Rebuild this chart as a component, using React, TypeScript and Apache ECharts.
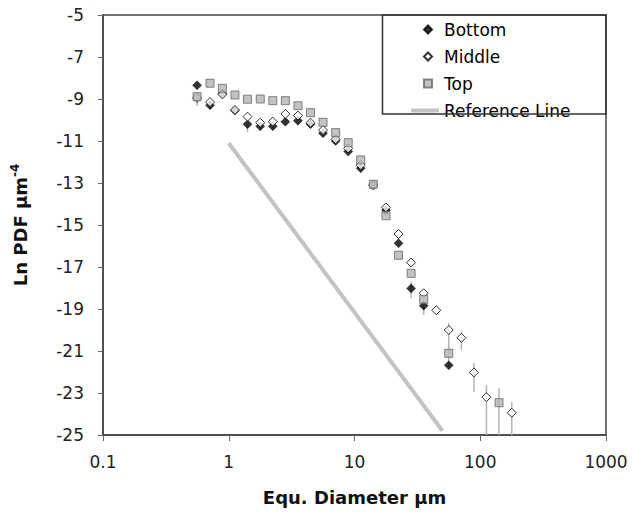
import React, { useEffect, useRef } from "react";
import * as echarts from "echarts";

// Equivalent diameter (µm) bins
const diameters = [0.56, 0.71, 0.89, 1.12, 1.41, 1.78, 2.24, 2.82, 3.55, 4.47, 5.62, 7.08, 8.91, 11.2, 14.1, 17.8, 22.4, 28.2, 35.5, 44.7, 56.2, 70.8, 89.1, 112, 141, 178];

// Ln PDF values per position
const bottomVals: (number | null)[] = [-8.35, -9.3, -8.75, -9.55, -10.2, -10.3, -10.3, -10.08, -10.03, -10.2, -10.63, -11.0, -11.5, -12.3, -13.1, -14.3, -15.87, -18.02, -18.84, null, -21.68, null, null, null, null, null];
const middleVals: (number | null)[] = [-8.95, -9.15, -8.78, -9.52, -9.84, -10.13, -10.08, -9.71, -9.79, -10.13, -10.48, -10.92, -11.35, -12.15, -13.1, -14.16, -15.43, -16.79, -18.25, -19.06, -20.0, -20.37, -22.02, -23.2, null, -23.94];
const topVals: (number | null)[] = [-8.89, -8.25, -8.49, -8.81, -9.01, -9.0, -9.08, -9.08, -9.32, -9.65, -10.11, -10.6, -11.08, -11.9, -13.06, -14.56, -16.44, -17.3, -18.54, null, -21.11, null, null, null, -23.46, null];

// Error bars [low, high] (null = none visible)
const bottomErr: ([number, number] | null)[] = [null, null, null, null, [-10.57, -10.2], [-10.5, -10.3], [-10.43, -10.3], null, null, null, null, null, null, null, null, null, null, [-18.49, -17.7], [-19.29, -18.84], null, null, null, null, null, null, null];
const middleErr: ([number, number] | null)[] = [null, [-9.48, -9.15], null, null, null, null, null, null, null, null, null, null, null, null, null, null, null, null, null, null, [-21.76, -19.67], [-20.95, -20.1], [-22.95, -21.57], [-26, -22.62], null, [-26, -23.43]];
const topErr: ([number, number] | null)[] = [[-9.33, -8.89], null, null, null, null, null, null, null, null, null, null, null, null, null, null, null, null, null, null, null, null, null, null, null, [-26, -22.76], null];

// Reference line (slope -3.5 in ln-ln)
const refLine: [number, number][] = [[1, -11.1], [50, -24.8]];

const markerNames = ["Bottom", "Middle", "Top"];
const lineNames = ["Reference Line"];
const xTickMin = 0.1;
const xTickMax = 1000;
const yMin = -25;
const yMax = -5;
const yStep = 2;

const FONT = "DejaVu Sans";

function pairs(vals: (number | null)[]) {
  const out: [number, number][] = [];
  vals.forEach((v, i) => {
    if (v !== null) out.push([diameters[i], v]);
  });
  return out;
}

function errData() {
  const out: [number, number, number][] = [];
  [bottomErr, middleErr, topErr].forEach((arr) => {
    arr.forEach((e, i) => {
      if (e) out.push([diameters[i], e[0], e[1]]);
    });
  });
  return out;
}

export default function App() {
  const ref = useRef<HTMLDivElement>(null);
  useEffect(() => {
    if (!ref.current) return;
    const chart = echarts.init(ref.current, undefined, { renderer: "svg" });
    const legendText = { fontFamily: FONT, fontSize: 17, color: "#000", lineHeight: 17 };
    chart.setOption({
      animation: false,
      backgroundColor: "#ffffff",
      grid: {
        left: 103,
        right: 26,
        top: 15,
        bottom: 78,
        show: true,
        borderColor: "#444",
        borderWidth: 1.5,
        containLabel: false,
      },
      legend: [
        {
          data: markerNames,
          orient: "vertical",
          left: 423,
          top: 21,
          padding: 0,
          itemWidth: 8,
          itemHeight: 8,
          itemGap: 10,
          textStyle: { ...legendText, padding: [0, 0, 0, 7] },
        },
        {
          data: lineNames.map((n) => ({ name: n, icon: "rect" })),
          orient: "vertical",
          left: 411,
          top: 102,
          padding: 0,
          itemWidth: 28,
          itemHeight: 4,
          textStyle: legendText,
        },
      ],
      graphic: [
        {
          type: "rect",
          shape: { x: 382.5, y: 15, width: 223.5, height: 99 },
          style: { fill: "none", stroke: "#333", lineWidth: 1.5 },
          z: 100,
        },
      ],
      xAxis: {
        type: "log",
        logBase: 10,
        min: xTickMin,
        max: xTickMax,
        axisLine: { show: true, lineStyle: { color: "#444", width: 1.5 } },
        axisTick: { show: true, length: 6, lineStyle: { color: "#666" } },
        minorTick: { show: false },
        splitLine: { show: false },
        axisLabel: {
          fontFamily: FONT,
          fontSize: 17,
          color: "#222",
          margin: 18,
          formatter: (v: number) => String(v),
        },
        name: "Equ. Diameter µm",
        nameLocation: "middle",
        nameGap: 53,
        nameTextStyle: { fontFamily: FONT, fontSize: 18, fontWeight: "bold", color: "#111" },
      },
      yAxis: {
        type: "value",
        min: yMin,
        max: yMax,
        interval: yStep,
        axisLine: { show: true, lineStyle: { color: "#444", width: 1.5 } },
        axisTick: { show: true, length: 5, lineStyle: { color: "#666" } },
        splitLine: { show: false },
        axisLabel: { fontFamily: FONT, fontSize: 17, color: "#222", margin: 19 },
        name: "{a|Ln PDF µm}{b|-4}",
        nameLocation: "middle",
        nameRotate: 90,
        nameGap: 72,
        nameTextStyle: {
          color: "#111",
          rich: {
            a: { fontFamily: FONT, fontSize: 18, fontWeight: "bold", color: "#111" },
            b: { fontFamily: FONT, fontSize: 12, fontWeight: "bold", color: "#111", padding: [0, 0, 10, 0] },
          },
        },
      },
      series: [
        {
          type: "custom",
          name: "errors",
          silent: true,
          z: 1,
          clip: true,
          data: errData(),
          renderItem: (params: any, api: any) => {
            const x = api.value(0);
            const lo = Math.max(api.value(1), yMin);
            const hi = api.value(2);
            const p1 = api.coord([x, lo]);
            const p2 = api.coord([x, hi]);
            return {
              type: "line",
              shape: { x1: p1[0], y1: p1[1], x2: p2[0], y2: p2[1] },
              style: { stroke: "#b5b5b5", lineWidth: 1.5 },
            };
          },
        },
        {
          type: "scatter",
          name: "Bottom",
          symbol: "diamond",
          symbolSize: 9,
          z: 3,
          itemStyle: { color: "#000", borderColor: "#000", borderWidth: 0.5 },
          data: pairs(bottomVals),
        },
        {
          type: "scatter",
          name: "Middle",
          symbol: "diamond",
          symbolSize: 9,
          z: 4,
          itemStyle: { color: "#fff", borderColor: "#000", borderWidth: 1 },
          data: pairs(middleVals),
        },
        {
          type: "scatter",
          name: "Top",
          symbol: "rect",
          symbolSize: 8,
          z: 5,
          itemStyle: { color: "#b4b4b4", borderColor: "#666", borderWidth: 1 },
          data: pairs(topVals),
        },
        {
          type: "line",
          name: "Reference Line",
          symbol: "none",
          z: 2,
          lineStyle: { color: "#c3c3c3", width: 4 },
          itemStyle: { color: "#c3c3c3" },
          data: refLine,
        },
      ],
    });
    return () => chart.dispose();
  }, []);
  return <div ref={ref} style={{ position: "fixed", left: 0, top: 0, width: 632, height: 513 }} />;
}
